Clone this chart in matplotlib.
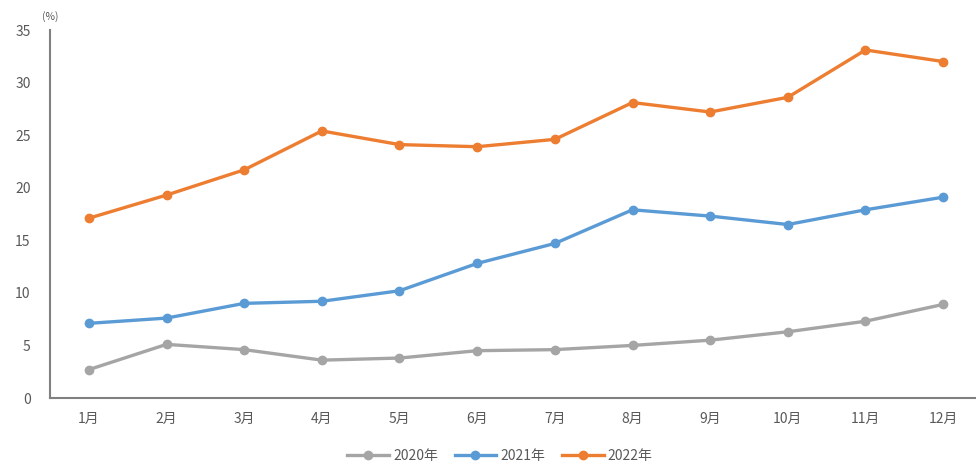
import numpy as np
import matplotlib
matplotlib.use("Agg")
from matplotlib import pyplot as plt

plt.rcParams['font.family'] = ['Noto Sans CJK SC', 'DejaVu Sans']

months = ['1月', '2月', '3月', '4月', '5月', '6月', '7月', '8月', '9月', '10月', '11月', '12月']
y2020 = [2.7, 5.1, 4.6, 3.6, 3.8, 4.5, 4.6, 5.0, 5.5, 6.3, 7.3, 8.9]
y2021 = [7.1, 7.6, 9.0, 9.2, 10.2, 12.8, 14.7, 17.9, 17.3, 16.5, 17.9, 19.1]
y2022 = [17.1, 19.3, 21.7, 25.4, 24.1, 23.9, 24.6, 28.1, 27.2, 28.6, 33.1, 32.0]
series = [('2020年', y2020, '#A5A5A5'), ('2021年', y2021, '#5B9BD5'), ('2022年', y2022, '#ED7D31')]
yticks = [0, 5, 10, 15, 20, 25, 30, 35]

fig = plt.figure(figsize=(9.76, 4.68), dpi=100)
ax = fig.add_axes([50/976, 70/468, 932/976, 368/468])

x = np.arange(len(months))
for name, vals, c in series:
    ax.plot(x, vals, color=c, lw=2.4, marker='o', markersize=6, label=name)

ax.set_xlim(-0.5, 11.5)
ax.set_ylim(0, 35)
ax.set_yticks(yticks)
ax.set_xticks(x)
ax.set_xticklabels(months)
ax.tick_params(length=0, labelsize=10, colors='#595959')
ax.tick_params(axis='y', pad=14)
ax.tick_params(axis='x', pad=10)
for s in ['top', 'right']:
    ax.spines[s].set_visible(False)
for s in ['left', 'bottom']:
    ax.spines[s].set_color('#808080')
    ax.spines[s].set_linewidth(1.5)

fig.text(42/976, 1 - 17/468, '(%)', fontsize=7.5, color='#595959', va='center')

leg = fig.legend(loc='center', bbox_to_anchor=(500/976, 1 - 456/468), ncol=3, frameon=False,
                 fontsize=10, handlelength=3, columnspacing=1.2, handletextpad=0.3)
for t in leg.get_texts():
    t.set_color('#595959')

plt.savefig('out.png', dpi=100)
